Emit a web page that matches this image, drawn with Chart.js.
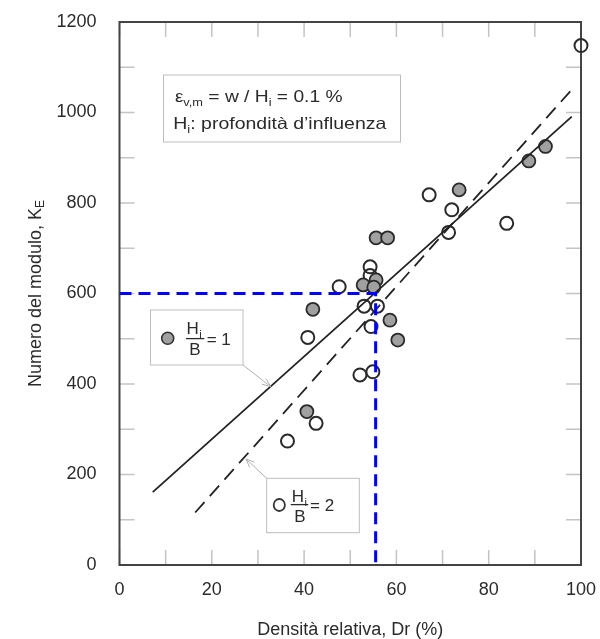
<!DOCTYPE html>
<html>
<head>
<meta charset="utf-8">
<script src="https://cdn.jsdelivr.net/npm/chart.js@4/dist/chart.umd.min.js"></script>
<style>
  body { margin: 0; background: #fff; }
  canvas { display: block; }
</style>
</head>
<body>
<canvas id="kChart" width="600" height="639"></canvas>
<script>
// Hi/B = 1 (filled)
const drFilled = [41.9, 40.6, 55.6, 58.1, 52.8, 55.6, 55.1, 58.6, 60.3, 73.6, 88.7, 92.3];
const keFilled = [565, 339, 723, 723, 619, 630, 614, 541, 497, 829, 893, 925];
// Hi/B = 2 (open)
const drOpen = [67.1, 72.0, 71.3, 83.9, 100, 47.6, 54.3, 54.3, 53.0, 55.9, 54.5, 52.1, 54.9, 40.8, 42.6, 36.4];
const keOpen = [818, 785, 735, 755, 1148, 615, 659, 640, 572, 572, 527, 420, 427, 503, 313, 274];
// trend lines (end points)
const fitSolidDr = [7.2, 98.0];
const fitSolidKe = [161, 991];
const fitDashDr = [16.4, 98.2];
const fitDashKe = [116, 1053];
// reading guide: Dr 55.5 -> KE 600
const guideDr = [0, 55.5, 55.5];
const guideKe = [600, 600, 0];

const xTicks = [0, 20, 40, 60, 80, 100];
const yTicks = [0, 200, 400, 600, 800, 1000, 1200];

const pts = (xs, ys) => xs.map((x, i) => ({ x, y: ys[i] }));
const FONT = "'Liberation Sans', Arial, sans-serif";
const TEXT = "#2b2b2b";

function richText(ctx, parts, x, y, width) {
    let total = 0;
    parts.forEach(p => { ctx.font = p.size + "px " + FONT; total += ctx.measureText(p.t).width; });
    const sx = width ? width / total : 1;
    ctx.save();
    ctx.translate(x, y);
    ctx.scale(sx, 1);
    let cx = 0;
    parts.forEach(p => {
        ctx.font = p.size + "px " + FONT;
        ctx.fillText(p.t, cx, p.dy || 0);
        cx += ctx.measureText(p.t).width;
    });
    ctx.restore();
}

function arrow(ctx, x1, y1, x2, y2) {
    const a = Math.atan2(y2 - y1, x2 - x1);
    ctx.beginPath();
    ctx.moveTo(x1, y1);
    ctx.lineTo(x2, y2);
    ctx.moveTo(x2 - 9 * Math.cos(a - 0.4), y2 - 9 * Math.sin(a - 0.4));
    ctx.lineTo(x2, y2);
    ctx.lineTo(x2 - 9 * Math.cos(a + 0.4), y2 - 9 * Math.sin(a + 0.4));
    ctx.stroke();
}

function fraction(ctx, hx, hy, barY, barX1, barX2, bx, by, ex, ey, value) {
    ctx.fillStyle = TEXT;
    ctx.font = "17px " + FONT;
    ctx.fillText("H", hx, hy);
    const hw = ctx.measureText("H").width;
    ctx.font = "11px " + FONT;
    ctx.fillText("i", hx + hw + 0.5, hy + 4);
    ctx.font = "17px " + FONT;
    ctx.fillText("B", bx, by);
    ctx.fillText("= " + value, ex, ey);
    ctx.strokeStyle = TEXT;
    ctx.lineWidth = 1.3;
    ctx.beginPath();
    ctx.moveTo(barX1, barY);
    ctx.lineTo(barX2, barY);
    ctx.stroke();
}

const framePlugin = {
    id: "frame",
    beforeDatasetsDraw(chart) {
        const { ctx, chartArea: a, scales: { x, y } } = chart;
        ctx.save();
        ctx.strokeStyle = "#c4c4c4";
        ctx.lineWidth = 1.5;
        ctx.beginPath();
        x.ticks.forEach(t => {
            const px = x.getPixelForValue(t.value);
            ctx.moveTo(px, a.bottom); ctx.lineTo(px, a.bottom - 15);
            ctx.moveTo(px, a.top); ctx.lineTo(px, a.top + 15);
        });
        y.ticks.forEach(t => {
            const py = y.getPixelForValue(t.value);
            ctx.moveTo(a.left, py); ctx.lineTo(a.left + 15, py);
            ctx.moveTo(a.right, py); ctx.lineTo(a.right - 15, py);
        });
        ctx.stroke();
        ctx.strokeStyle = "#444";
        ctx.lineWidth = 2;
        ctx.strokeRect(a.left, a.top, a.right - a.left, a.bottom - a.top);

        // y axis title with subscript
        ctx.fillStyle = TEXT;
        ctx.translate(36, (a.top + a.bottom) / 2);
        ctx.rotate(-Math.PI / 2);
        ctx.font = "18px " + FONT;
        ctx.textBaseline = "middle";
        const main = "Numero del modulo, K";
        const w = ctx.measureText(main).width;
        ctx.font = "12px " + FONT;
        const sw = ctx.measureText("E").width;
        const start = -(w + sw) / 2;
        ctx.font = "18px " + FONT;
        ctx.fillText(main, start, 0);
        ctx.font = "12px " + FONT;
        ctx.fillText("E", start + w, 5);
        ctx.restore();
    },
    afterDraw(chart) {
        const { ctx, chartArea: a } = chart;
        const L = a.left, T = a.top;
        ctx.save();
        ctx.textBaseline = "alphabetic";

        // info box
        ctx.fillStyle = "#fff";
        ctx.fillRect(L + 44, T + 53, 237, 67);
        ctx.strokeStyle = "#bdbdbd";
        ctx.lineWidth = 1;
        ctx.strokeRect(L + 44, T + 53, 237, 67);
        ctx.fillStyle = TEXT;
        richText(ctx, [
            { t: "\u03b5", size: 16 },
            { t: "v,m", size: 11, dy: 4 },
            { t: " = w / H", size: 16.5 },
            { t: "i", size: 11, dy: 4 },
            { t: " = 0.1 %", size: 16.5 }
        ], L + 55.5, T + 79.5, 167.5);
        richText(ctx, [
            { t: "H", size: 16.5 },
            { t: "i", size: 11, dy: 4 },
            { t: ": profondit\u00e0 d\u2019influenza", size: 16.5 }
        ], L + 53.8, T + 106.5, 213);

        // legend 1 (filled)
        ctx.strokeStyle = "#bdbdbd";
        ctx.lineWidth = 1;
        ctx.fillStyle = "#fff";
        ctx.fillRect(L + 31, 310, 92.5, 55);
        ctx.strokeRect(L + 31, 310, 92.5, 55);
        ctx.strokeStyle = "#b0b0b0";
        arrow(ctx, L + 123.5, 365, L + 151, 386.5);
        ctx.beginPath();
        ctx.arc(L + 48.2, 338.3, 6, 0, Math.PI * 2);
        ctx.fillStyle = "#a0a0a0";
        ctx.fill();
        ctx.strokeStyle = "#333";
        ctx.lineWidth = 1.6;
        ctx.stroke();
        fraction(ctx, L + 67, 334.3, 338.6, L + 66.5, L + 84.8, L + 69.7, 354.5, L + 87.2, 344.5, 1);

        // legend 2 (open)
        ctx.strokeStyle = "#bdbdbd";
        ctx.lineWidth = 1;
        ctx.fillStyle = "#fff";
        ctx.fillRect(L + 147.2, 478.3, 92.6, 54.4);
        ctx.strokeRect(L + 147.2, 478.3, 92.6, 54.4);
        ctx.strokeStyle = "#b0b0b0";
        arrow(ctx, L + 147.2, 478.3, L + 126.5, 459);
        ctx.beginPath();
        ctx.ellipse(L + 159.8, 505, 5.6, 6, 0, 0, Math.PI * 2);
        ctx.strokeStyle = "#333";
        ctx.lineWidth = 1.8;
        ctx.stroke();
        fraction(ctx, L + 172.2, 501.7, 504.6, L + 171.2, L + 188.8, L + 174.8, 521.8, L + 190.5, 511, 2);
        ctx.restore();
    }
};

new Chart(document.getElementById("kChart"), {
    type: "scatter",
    data: {
        datasets: [
            {
                label: "guide",
                data: pts(guideDr, guideKe),
                showLine: true,
                borderColor: "#0000ff",
                borderWidth: 3,
                borderDash: [12, 7],
                pointRadius: 0,
                order: 0,
            },
            {
                label: "fit Hi/B = 1",
                data: pts(fitSolidDr, fitSolidKe),
                showLine: true,
                borderColor: "#222",
                borderWidth: 1.8,
                pointRadius: 0,
                order: 1,
            },
            {
                label: "fit Hi/B = 2",
                data: pts(fitDashDr, fitDashKe),
                showLine: true,
                borderColor: "#222",
                borderWidth: 1.8,
                borderDash: [14, 8],
                pointRadius: 0,
                order: 1,
            },
            {
                label: "Hi/B = 1",
                data: pts(drFilled, keFilled),
                backgroundColor: "#a0a0a0",
                borderColor: "#2a2a2a",
                borderWidth: 1.8,
                pointRadius: 6.5,
                clip: false,
                order: 2,
            },
            {
                label: "Hi/B = 2",
                data: pts(drOpen, keOpen),
                backgroundColor: "rgba(255,255,255,0)",
                borderColor: "#2a2a2a",
                borderWidth: 2,
                pointRadius: 6.5,
                clip: false,
                order: 3,
            },
        ],
    },
    options: {
        responsive: false,
        animation: false,
        layout: { padding: { left: 0, right: 19, top: 22, bottom: 0 } },
        plugins: {
            legend: { display: false },
            tooltip: { enabled: false },
        },
        scales: {
            x: {
                type: "linear",
                min: 0,
                max: 100,
                grid: { display: true, drawOnChartArea: false, drawTicks: true, tickLength: 14, color: "rgba(0,0,0,0)" },
                border: { display: false },
                ticks: {
                    stepSize: 10,
                    autoSkip: false,
                    maxRotation: 0,
                    padding: 0,
                    color: TEXT,
                    font: { family: FONT, size: 18 },
                    callback: (v) => (xTicks.includes(v) ? v : ""),
                },
                title: {
                    display: true,
                    text: "Densit\u00e0 relativa, Dr (%)",
                    color: TEXT,
                    font: { family: FONT, size: 18, lineHeight: 1 },
                    padding: 0,
                },
                afterFit: (s) => { s.height = 74; },
            },
            y: {
                type: "linear",
                min: 0,
                max: 1200,
                grid: { display: true, drawOnChartArea: false, drawTicks: true, tickLength: 23, color: "rgba(0,0,0,0)" },
                border: { display: false },
                ticks: {
                    stepSize: 100,
                    autoSkip: false,
                    padding: 0,
                    color: TEXT,
                    font: { family: FONT, size: 18 },
                    callback: (v) => (yTicks.includes(v) ? v : ""),
                },
                afterFit: (s) => { s.width = 119.5; },
            },
        },
    },
    plugins: [framePlugin],
});
</script>
</body>
</html>
